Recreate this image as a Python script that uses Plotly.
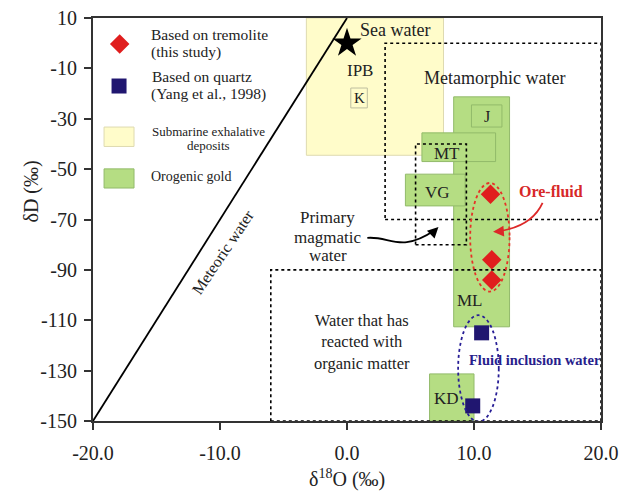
import plotly.graph_objects as go

# ---------------- data ----------------
tremolite_d18O = [11.3, 11.4, 11.4]
tremolite_dD = [-60, -86, -94]

quartz_d18O = [10.6, 9.9]
quartz_dD = [-115, -144]

seawater_d18O = [0]
seawater_dD = [0]

meteoric_d18O = [-20, 0]
meteoric_dD = [8 * v + 10 for v in meteoric_d18O]

# field boxes
sedex_names = ["IPB", "K"]
sedex_x0 = [-3.2, 0.3]
sedex_x1 = [7.6, 1.6]
sedex_y0 = [-44.5, -25.7]
sedex_y1 = [10, -17.8]

orogenic_names = ["ML", "J", "MT", "VG", "KD"]
orogenic_x0 = [8.4, 9.8, 5.9, 4.6, 6.5]
orogenic_x1 = [12.8, 12.2, 11.7, 9.3, 10.0]
orogenic_y0 = [-112.6, -33.3, -47.0, -64.6, -150]
orogenic_y1 = [-21.3, -24.5, -35.6, -52.0, -131.3]

water_names = ["Metamorphic water", "Primary magmatic water", "Water that has reacted with organic matter"]
water_x0 = [3.0, 5.4, -6.0]
water_x1 = [20, 9.4, 20]
water_y0 = [-70, -80, -150]
water_y1 = [0, -40, -90]

x_ticks = [-20, -10, 0, 10, 20]
y_ticks = [-150, -130, -110, -90, -70, -50, -30, -10, 10]

FONT = "Liberation Serif"
GREEN = "rgb(181,221,131)"
GREEN_LINE = "rgb(146,186,106)"
YELLOW = "rgb(255,252,202)"
YELLOW_LINE = "rgb(222,218,176)"
RED = "rgb(224,30,30)"
NAVY = "rgb(32,22,112)"
TXT = "#222"

fig = go.Figure()
shapes = []
ann = []

for i in range(len(sedex_names)):
    shapes.append(dict(type="rect", xref="x", yref="y", x0=sedex_x0[i], x1=sedex_x1[i],
                       y0=sedex_y0[i], y1=sedex_y1[i], fillcolor=YELLOW,
                       line=dict(color=YELLOW_LINE if i == 0 else "rgb(190,190,160)", width=1), layer="below"))
for i in range(len(orogenic_names)):
    shapes.append(dict(type="rect", xref="x", yref="y", x0=orogenic_x0[i], x1=orogenic_x1[i],
                       y0=orogenic_y0[i], y1=orogenic_y1[i], fillcolor=GREEN,
                       line=dict(color=GREEN_LINE, width=1), layer="below"))
for i in range(len(water_names)):
    shapes.append(dict(type="rect", xref="x", yref="y", x0=water_x0[i], x1=water_x1[i],
                       y0=water_y0[i], y1=water_y1[i], fillcolor="rgba(0,0,0,0)",
                       line=dict(color="black", width=1.6, dash="dot"), layer="above"))

shapes.append(dict(type="circle", xref="x", yref="y", x0=9.7, x1=12.8, y0=-98.6, y1=-55.5,
                   line=dict(color="rgb(230,50,40)", width=1.8, dash="dot")))
shapes.append(dict(type="circle", xref="x", yref="y", x0=8.75, x1=11.95, y0=-150.3, y1=-108,
                   line=dict(color="rgb(40,30,150)", width=1.8, dash="dot")))

shapes.append(dict(type="path", xref="x", yref="y",
                   path="M 1.6,-77.3 C 3.4,-76.5 4.2,-83.5 6.9,-74.3",
                   line=dict(color="black", width=1.8)))
ann.append(dict(x=7.2, y=-73, ax=6.7, ay=-75.5, xref="x", yref="y", axref="x", ayref="y",
                text="", showarrow=True, arrowhead=2, arrowsize=1.2, arrowwidth=1.8, arrowcolor="black"))
shapes.append(dict(type="path", xref="x", yref="y",
                   path="M 15.4,-63.4 C 14.8,-70 13.6,-73.5 11.9,-74.7",
                   line=dict(color="rgb(220,40,40)", width=1.8)))
ann.append(dict(x=11.5, y=-74.9, ax=12.3, ay=-74.6, xref="x", yref="y", axref="x", ayref="y",
                text="", showarrow=True, arrowhead=2, arrowsize=1.2, arrowwidth=1.8, arrowcolor="rgb(220,40,40)"))

fig.add_trace(go.Scatter(x=meteoric_d18O, y=meteoric_dD, mode="lines",
                         line=dict(color="black", width=1.8), showlegend=False, hoverinfo="skip"))
fig.add_trace(go.Scatter(x=seawater_d18O, y=seawater_dD, mode="markers",
                         marker=dict(symbol="star", size=22, color="black"), showlegend=False))
fig.add_trace(go.Scatter(x=tremolite_d18O, y=tremolite_dD, mode="markers", name="Based on tremolite",
                         marker=dict(symbol="diamond", size=15, color=RED), showlegend=False))
fig.add_trace(go.Scatter(x=quartz_d18O, y=quartz_dD, mode="markers", name="Based on quartz",
                         marker=dict(symbol="square", size=15, color=NAVY), showlegend=False))

# manual legend
fig.add_trace(go.Scatter(x=[-17.9], y=[-0.3], mode="markers", showlegend=False,
                         marker=dict(symbol="diamond", size=15, color=RED)))
fig.add_trace(go.Scatter(x=[-17.95], y=[-17], mode="markers", showlegend=False,
                         marker=dict(symbol="square", size=15, color=NAVY)))
shapes.append(dict(type="rect", xref="x", yref="y", x0=-19.13, x1=-16.77, y0=-41.0, y1=-33.3,
                   fillcolor=YELLOW, line=dict(color=YELLOW_LINE, width=1)))
shapes.append(dict(type="rect", xref="x", yref="y", x0=-19.13, x1=-16.77, y0=-57.5, y1=-49.9,
                   fillcolor=GREEN, line=dict(color=GREEN_LINE, width=1)))


def txt(x, y, s, size=16, color=TXT, xanchor="center", bold=False, angle=0):
    if bold:
        s = "<b>" + s + "</b>"
    ann.append(dict(x=x, y=y, xref="x", yref="y", text=s, showarrow=False, xanchor=xanchor,
                    yanchor="middle", textangle=angle, font=dict(family=FONT, size=size, color=color)))


legend_labels = ["Based on tremolite", "(this study)", "Based on quartz", "(Yang et al., 1998)",
                 "Submarine exhalative", "deposits", "Orogenic gold"]
txt(-15.6, 3.3, legend_labels[0], 15.5, xanchor="left")
txt(-15.6, -3.5, legend_labels[1], 15.5, xanchor="left")
txt(-15.5, -13.4, legend_labels[2], 15.5, xanchor="left")
txt(-15.6, -20.2, legend_labels[3], 15.5, xanchor="left")
txt(-10.9, -35.2, legend_labels[4], 13)
txt(-10.9, -40.8, legend_labels[5], 13)
txt(-15.6, -53.1, legend_labels[6], 14, xanchor="left")

txt(3.8, 5.2, "Sea water", 18)
txt(1.0, -11, "IPB", 17)
txt(0.95, -21.7, "K", 15)
txt(11.65, -13.8, "Metamorphic water", 18)
txt(11.0, -29.2, "J", 16)
txt(7.9, -43.6, "MT", 17)
txt(7.1, -59.4, "VG", 17)
txt(9.7, -102.3, "ML", 17)
txt(7.8, -141.2, "KD", 17)
txt(16.1, -59.0, "Ore-fluid", 16, color="rgb(215,40,40)", bold=True)
txt(14.8, -125.7, "Fluid inclusion water", 14.5, color="rgb(40,30,140)", bold=True)
txt(-1.5, -69.4, "Primary", 17)
txt(-1.5, -77.0, "magmatic", 17)
txt(-1.5, -84.1, "water", 17)
txt(1.2, -118.6, "Water that has<br>reacted with<br>organic matter", 16.5)
txt(-9.8, -83.0, "Meteoric water", 16, angle=-56)

H, W = 493, 619
t, b, l, r = 18, 72, 93, 18
ph = H - t - b
pw = W - l - r
ann.append(dict(x=0, y=(H - b - 478) / ph, xref="x", yref="paper", yanchor="middle",
                text="δ<sup>18</sup>O (‰)", showarrow=False,
                font=dict(family=FONT, size=20, color=TXT)))
ann.append(dict(x=(17 - l) / pw, y=(H - b - 192) / ph, xref="paper", yref="paper",
                text="δD (‰)", showarrow=False, textangle=-90,
                font=dict(family=FONT, size=20, color=TXT)))

fig.update_layout(
    width=W, height=H,
    margin=dict(l=l, r=r, t=t, b=b),
    plot_bgcolor="white", paper_bgcolor="white",
    shapes=shapes, annotations=ann, showlegend=False,
    font=dict(family=FONT, size=19, color=TXT),
)
fig.update_xaxes(range=[-20, 20], tickvals=x_ticks,
                 ticktext=[f"{v:.1f}".replace("−", "-") for v in x_ticks],
                 showgrid=False, zeroline=False, showline=True, linecolor="#333", linewidth=2,
                 mirror=True, ticks="outside", ticklen=7, tickwidth=2, tickcolor="#333",
                 ticklabelstandoff=6, automargin=False,
                 tickfont=dict(family=FONT, size=20, color=TXT))
fig.update_yaxes(range=[-150, 10], tickvals=y_ticks, ticktext=[str(v) for v in y_ticks],
                 showgrid=False, zeroline=False, showline=True, linecolor="#333", linewidth=2,
                 mirror=True, ticks="outside", ticklen=7, tickwidth=2, tickcolor="#333",
                 ticklabelstandoff=3, automargin=False,
                 tickfont=dict(family=FONT, size=20, color=TXT))

fig.write_html("out.html")
